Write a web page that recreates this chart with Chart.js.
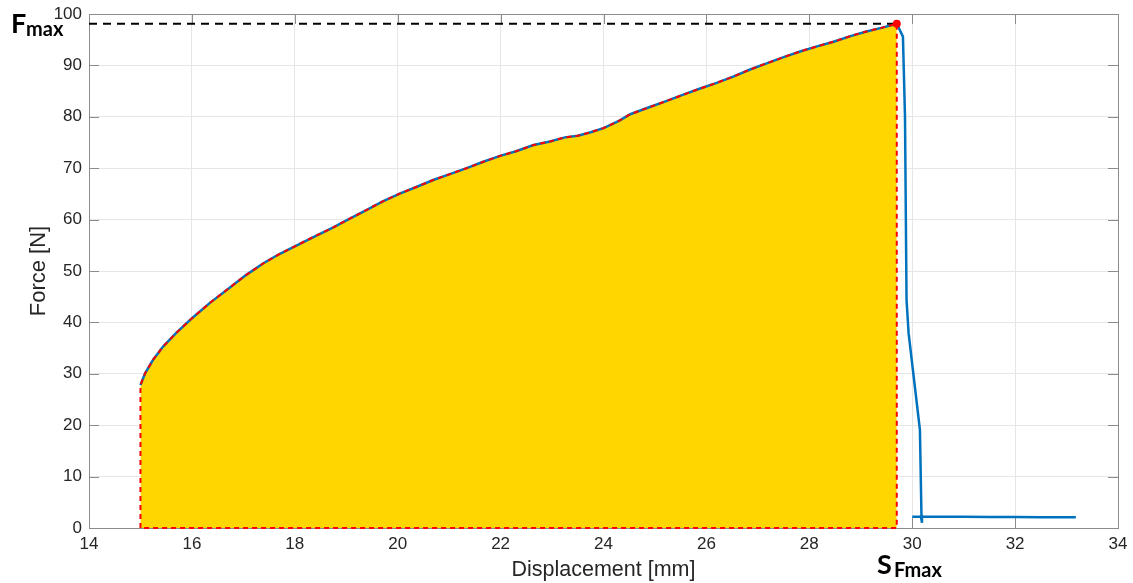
<!DOCTYPE html>
<html>
<head>
<meta charset="utf-8">
<script src="https://cdn.jsdelivr.net/npm/chart.js@4.4.1/dist/chart.umd.min.js"></script>
<style>
  body { margin: 0; background: #fff; }
  #wrap { position: relative; width: 1133px; height: 583px; }
  .lbl { position: absolute; font-family: Lato, "Open Sans", sans-serif; font-weight: bold; color: #000; line-height: 1; white-space: nowrap; }
  .big { font-size: 27px; }
  .sub { font-size: 20px; }
</style>
</head>
<body>
<div id="wrap">
  <canvas id="chart" width="1133" height="583"></canvas>
  <div class="lbl" style="left:11px; top:9px;"><span class="big">F</span></div>
  <div class="lbl" style="left:26px; top:18px;"><span class="sub">max</span></div>
  <div class="lbl" style="left:877px; top:550px;"><span class="big">S</span></div>
  <div class="lbl" style="left:894px; top:559px;"><span class="sub">Fmax</span></div>
</div>
<script>
// loading curve up to the maximum force
const dispCurve  = [15.0, 15.09, 15.25, 15.44, 15.7, 15.99, 16.35, 16.74, 17.05, 17.39, 17.7, 18.04, 18.4, 18.75,
                    19.05, 19.4, 19.7, 20.05, 20.35, 20.69, 21.0, 21.34, 21.65, 21.99, 22.3, 22.64, 22.96, 23.25,
                    23.5, 23.75, 24.0, 24.3, 24.52, 24.9, 25.23, 25.55, 25.88, 26.2, 26.52, 26.85, 27.17, 27.5,
                    27.82, 28.15, 28.47, 28.8, 29.11, 29.4, 29.7];
const forceCurve = [27.8, 30.1, 32.8, 35.3, 38.0, 40.7, 43.8, 46.8, 49.2, 51.5, 53.3, 55.0, 56.8, 58.5,
                    60.1, 61.9, 63.5, 65.1, 66.3, 67.7, 68.8, 70.0, 71.2, 72.4, 73.3, 74.5, 75.2, 76.0,
                    76.3, 77.0, 77.8, 79.2, 80.5, 81.9, 83.1, 84.3, 85.5, 86.6, 87.8, 89.2, 90.4, 91.6,
                    92.7, 93.7, 94.6, 95.7, 96.6, 97.3, 98.1];

// failure part after the peak
const dispDrop  = [29.82, 29.86, 29.89, 29.93, 30.15, 30.18, 30.19, 30.17, 30.0, 30.1, 30.5, 31.0, 31.5, 32.0, 32.5, 33.18];
const forceDrop = [95.6, 80.0, 44.4, 37.9, 19.1, 2.5, 1.0, 2.2, 2.2, 2.2, 2.2, 2.2, 2.15, 2.15, 2.1, 2.1];

const xTicks = [14, 16, 18, 20, 22, 24, 26, 28, 30, 32, 34];
const yTicks = [0, 10, 20, 30, 40, 50, 60, 70, 80, 90, 100];

const peakDisp = dispCurve[dispCurve.length - 1];
const peakForce = forceCurve[forceCurve.length - 1];
const startDisp = dispCurve[0];

const curvePts = dispCurve.map((d, i) => ({ x: d, y: forceCurve[i] }));
const dropPts = dispDrop.map((d, i) => ({ x: d, y: forceDrop[i] }));

const fillPts = [{ x: startDisp, y: 0 }, ...curvePts, { x: peakDisp, y: 0 }];
const outlinePts = [{ x: startDisp, y: 0 }, ...curvePts, { x: peakDisp, y: 0 }, { x: startDisp, y: 0 }];

// box and inward ticks, MATLAB style
const frame = {
  id: 'frame',
  beforeDatasetsDraw(chart) {
    const { ctx, chartArea: a, scales: { x, y } } = chart;
    ctx.save();
    ctx.strokeStyle = '#8c8c8c';
    ctx.lineWidth = 1;
    ctx.beginPath();
    xTicks.forEach(v => {
      const px = Math.round(x.getPixelForValue(v)) + 0.5;
      ctx.moveTo(px, a.bottom); ctx.lineTo(px, a.bottom - 10);
      ctx.moveTo(px, a.top); ctx.lineTo(px, a.top + 10);
    });
    yTicks.forEach(v => {
      const py = Math.round(y.getPixelForValue(v)) + 0.5;
      ctx.moveTo(a.left, py); ctx.lineTo(a.left + 10, py);
      ctx.moveTo(a.right, py); ctx.lineTo(a.right - 10, py);
    });
    ctx.stroke();
    ctx.strokeRect(Math.round(a.left) + 0.5, Math.round(a.top) + 0.5, Math.round(a.width), Math.round(a.height));
    ctx.restore();
  }
};

new Chart(document.getElementById('chart'), {
  type: 'scatter',
  data: {
    datasets: [
      {
        data: [{ x: peakDisp, y: peakForce }],
        pointRadius: 4, pointBackgroundColor: '#ff0000', pointBorderWidth: 0, showLine: false, clip: false
      },
      {
        data: outlinePts, showLine: true, borderColor: '#ff0000', borderWidth: 2, borderDash: [5, 4],
        pointRadius: 0, clip: false
      },
      {
        data: [{ x: 14, y: peakForce }, { x: peakDisp, y: peakForce }], showLine: true,
        borderColor: '#000000', borderWidth: 2, borderDash: [8, 6], pointRadius: 0
      },
      {
        data: [...curvePts, ...dropPts], showLine: true, borderColor: '#0072BD', borderWidth: 2.5,
        pointRadius: 0, clip: false
      },
      {
        data: fillPts, showLine: true, borderWidth: 0, borderColor: 'rgba(0,0,0,0)',
        backgroundColor: '#FFD600', fill: 'origin', pointRadius: 0
      }
    ]
  },
  options: {
    responsive: false,
    animation: false,
    layout: { padding: { left: 0, top: 14, right: 15, bottom: 0 } },
    plugins: { legend: { display: false }, tooltip: { enabled: false } },
    scales: {
      x: {
        type: 'linear', min: 14, max: 34,
        afterBuildTicks: s => { s.ticks = xTicks.map(v => ({ value: v })); },
        afterFit: s => { s.height = 55; s.paddingLeft = 0; s.paddingRight = 0; },
        grid: { color: '#e6e6e6', drawTicks: false },
        border: { display: false },
        ticks: { padding: 6, color: '#262626', font: { family: 'Liberation Sans', size: 17 } },
        title: {
          display: true, text: 'Displacement [mm]', color: '#262626',
          font: { family: 'Liberation Sans', size: 21.5 }, padding: { top: 0, bottom: 0 }
        }
      },
      y: {
        type: 'linear', min: 0, max: 100,
        afterBuildTicks: s => { s.ticks = yTicks.map(v => ({ value: v })); },
        afterFit: s => { s.width = 89; s.paddingTop = 0; s.paddingBottom = 0; },
        grid: { color: '#e6e6e6', drawTicks: false },
        border: { display: false },
        ticks: { padding: 7, color: '#262626', font: { family: 'Liberation Sans', size: 17 } },
        title: {
          display: true, text: 'Force [N]', color: '#262626',
          font: { family: 'Liberation Sans', size: 22 }, padding: { top: 26, bottom: 0 }
        }
      }
    }
  },
  plugins: [frame]
});
</script>
</body>
</html>
